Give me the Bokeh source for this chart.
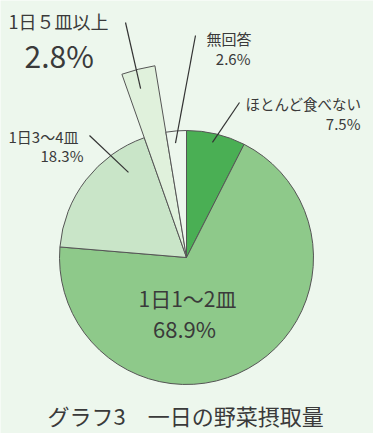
import numpy as np
from bokeh.plotting import figure
from bokeh.models import Range1d, ColumnDataSource
from bokeh.embed import file_html
from bokeh.resources import INLINE
from bokeh.core.properties import value

# ---- data ----
categories = ["ほとんど食べない", "1日1〜2皿", "1日3〜4皿", "1日５皿以上", "無回答"]
percents = [7.5, 68.9, 18.3, 2.8, 2.6]
colors = ["#4aaf54", "#8ec98a", "#c9e5c8", "#e0f1dc", "#edf7ed"]
explode = [1.0, 1.0, 1.0, 1.53, 1.0]
title_text = "グラフ3　一日の野菜摂取量"

# ---- layout ----
W, H = 373, 433
BG = "#edf7ed"
FONT = "Noto Sans CJK JP"
TXT = "#3a3a3a"


def ref(x, y):
    """convert reference-image pixel position to data coords"""
    return x, H - y


cx, cy = ref(186, 257)
R = 127

total = sum(percents)
cum = np.cumsum([0] + percents) / total * 2 * np.pi  # clockwise from 12 o'clock
starts = np.pi / 2 - cum[1:]
ends = np.pi / 2 - cum[:-1]

p = figure(width=W, height=H, output_backend="svg", toolbar_location=None,
           x_range=Range1d(0, W), y_range=Range1d(0, H), min_border=0,
           background_fill_color=BG, border_fill_color=BG)
p.axis.visible = False
p.grid.visible = False
p.outline_line_color = None

src = ColumnDataSource(dict(
    start=starts, end=ends, color=colors,
    r=[R * e for e in explode],
))
p.wedge(x=cx, y=cy, radius="r", start_angle="start", end_angle="end",
        fill_color="color", line_color="#555555", line_width=1, source=src)

# ---- leader lines ----
# (slice index, angle in deg clockwise from top, radius px, outer ref point)
leaders = [
    (0, 12.7, 118, (239, 102)),
    (2, 325.7, 103, (89, 135)),
    (3, 344.8, 175, (125, 22)),
    (4, 354.5, 115, (195, 35)),
]
xs, ys = [], []
for i, ang, rr, outer in leaders:
    a = np.deg2rad(ang)
    ix, iy = cx + rr * np.sin(a), cy + rr * np.cos(a)
    ox, oy = ref(*outer)
    xs.append([ix, ox])
    ys.append([iy, oy])
p.multi_line(xs=xs, ys=ys, line_color="#333333", line_width=1.2)

# ---- labels ----
pct = [f"{v}%" for v in percents]
lab = dict(x=[], y=[], text=[], align=[], size=[])


def add(text, pos, align, size):
    x, y = ref(*pos)
    lab["x"].append(x)
    lab["y"].append(y)
    lab["text"].append(text)
    lab["align"].append(align)
    lab["size"].append(size)


add(categories[3], (8, 20), "left", "18px")
add(pct[3], (24, 54), "left", "30px")
add(categories[4], (206, 38), "left", "15px")
add(pct[4], (250, 58), "right", "15px")
add(categories[0], (245, 103), "left", "14.5px")
add(pct[0], (360, 123), "right", "15px")
add(categories[2], (8, 136), "left", "15px")
add(pct[2], (83, 155), "right", "15px")
add(categories[1], (187, 297), "center", "21px")
add(pct[1], (184, 327), "center", "22px")
add(title_text, (47, 414), "left", "22px")

p.text(x="x", y="y", text="text", text_align="align", text_font_size="size",
       text_baseline="middle", text_color=TXT, text_font=value(FONT),
       source=ColumnDataSource(lab))

open("out.html", "w").write(file_html(p, INLINE))
